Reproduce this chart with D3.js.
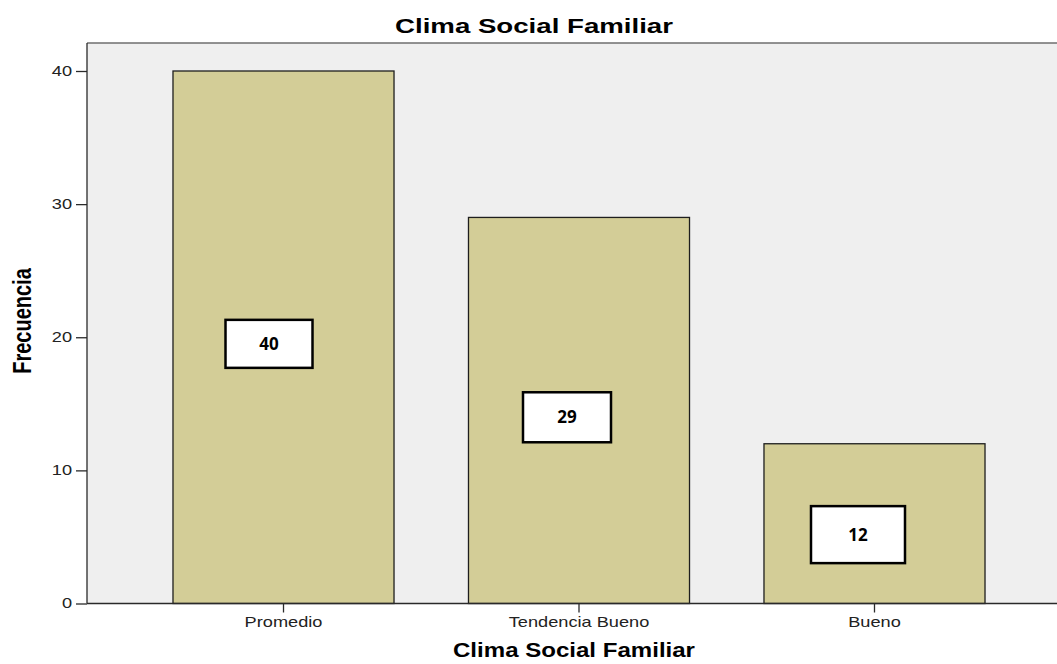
<!DOCTYPE html>
<html>
<head>
<meta charset="utf-8">
<script src="https://cdn.jsdelivr.net/npm/d3@7"></script>
<style>
  body { margin: 0; background: #fff; }
</style>
</head>
<body>
<div id="wrapper"></div>
<script>
const categories = ["Promedio", "Tendencia Bueno", "Bueno"];
const frecuencias = [40, 29, 12];
const yTicks = [0, 10, 20, 30, 40];
const chartTitle = "Clima Social Familiar";
const xTitle = "Clima Social Familiar";
const yTitle = "Frecuencia";

// the source picture is stretched sideways, text too
const stretch = 1.3;
const arial = "Arial, 'Liberation Sans', sans-serif";

function stretchText(sel) {
    sel.each(function () {
        const t = d3.select(this)
        const x = +t.attr("x") || 0
        const y = +t.attr("y") || 0
        t.attr("x", 0).attr("y", 0)
            .attr("transform", `translate(${x},${y}) scale(${stretch},1)`)
    })
}

function drawBars() {
    const dims = {
        width: 1057,
        height: 664,
        left: 87,
        right: 1071,
        top: 43,
        bottom: 603.5
    }

    const svg = d3.select("#wrapper")
        .append("svg")
        .attr("width", dims.width)
        .attr("height", dims.height)

    const xScale = d3.scaleBand()
        .domain(categories)
        .range([dims.left, dims.right])
        .paddingInner(0.252)
        .paddingOuter(0.291)

    const yScale = d3.scaleLinear()
        .domain([0, 40])
        .range([dims.bottom, 71])

    // plot background
    svg.append("rect")
        .attr("x", dims.left)
        .attr("y", dims.top)
        .attr("width", dims.right - dims.left)
        .attr("height", dims.bottom - dims.top)
        .attr("fill", "#efefef")

    svg.append("line")
        .attr("x1", dims.left).attr("x2", dims.right)
        .attr("y1", dims.top).attr("y2", dims.top)
        .attr("stroke", "#6e6e6e")
        .attr("stroke-width", 1.5)

    // bars
    svg.selectAll(".bar")
        .data(frecuencias)
        .enter()
        .append("rect")
        .attr("class", "bar")
        .attr("x", (d, i) => xScale(categories[i]))
        .attr("y", d => yScale(d))
        .attr("width", xScale.bandwidth())
        .attr("height", d => yScale(0) - yScale(d))
        .attr("fill", "#d3cd97")
        .attr("stroke", "#1e1e1e")
        .attr("stroke-width", 1.3)

    // axes
    const yAxis = svg.append("g")
        .attr("transform", `translate(${dims.left},0)`)
        .call(d3.axisLeft(yScale).tickValues(yTicks).tickSize(11).tickPadding(4).tickSizeOuter(0))
    yAxis.select(".domain").remove()
    yAxis.append("line")
        .attr("x1", 0).attr("x2", 0)
        .attr("y1", dims.top).attr("y2", dims.bottom)
        .attr("stroke", "#2a2a2a").attr("stroke-width", 1.3)

    const xAxis = svg.append("g")
        .attr("transform", `translate(0,${dims.bottom})`)
        .call(d3.axisBottom(xScale).tickSize(9).tickPadding(5).tickSizeOuter(0))
    xAxis.select(".domain").remove()
    xAxis.append("line")
        .attr("x1", dims.left).attr("x2", dims.right)
        .attr("y1", 0).attr("y2", 0)
        .attr("stroke", "#2a2a2a").attr("stroke-width", 1.3)

    svg.selectAll(".tick line").attr("stroke", "#2a2a2a").attr("stroke-width", 1.3)
    svg.selectAll(".tick text")
        .attr("fill", "#222")
        .style("font-family", arial)
        .style("font-size", "14px")
    yAxis.selectAll(".tick text").call(stretchText)
    xAxis.selectAll(".tick text").each(function () {
        const t = d3.select(this)
        const y = +t.attr("y")
        t.attr("y", 0).attr("transform", `translate(0,${y}) scale(${stretch},1)`)
    })

    // value boxes (pasted on top of the chart, slightly off-centre)
    const boxLayout = [
        { dx: -14.5, dy: 6.6, w: 87, h: 48 },
        { dx: -12, dy: 6.8, w: 88, h: 50 },
        { dx: -16.5, dy: 11, w: 94, h: 57 }
    ]
    const labels = svg.selectAll(".lbl")
        .data(frecuencias)
        .enter()
        .append("g")
        .attr("class", "lbl")
        .attr("transform", (d, i) => {
            const cx = xScale(categories[i]) + xScale.bandwidth() / 2 + boxLayout[i].dx
            const cy = yScale(d / 2) + boxLayout[i].dy
            return `translate(${cx},${cy})`
        })
    labels.append("rect")
        .attr("x", (d, i) => -boxLayout[i].w / 2)
        .attr("y", (d, i) => -boxLayout[i].h / 2)
        .attr("width", (d, i) => boxLayout[i].w)
        .attr("height", (d, i) => boxLayout[i].h)
        .attr("fill", "#fff")
        .attr("stroke", "#000")
        .attr("stroke-width", 2.5)
    labels.append("text")
        .attr("text-anchor", "middle")
        .attr("dy", "0.36em")
        .style("font-family", "'Open Sans', sans-serif")
        .style("font-weight", "bold")
        .style("font-size", "17px")
        .text(d => d)

    // titles
    svg.append("text")
        .attr("x", 534)
        .attr("y", 33)
        .attr("text-anchor", "middle")
        .attr("textLength", 278)
        .attr("lengthAdjust", "spacingAndGlyphs")
        .style("font-family", arial)
        .style("font-weight", "bold")
        .style("font-size", "20px")
        .text(chartTitle)

    svg.append("text")
        .attr("x", 574)
        .attr("y", 657)
        .attr("text-anchor", "middle")
        .attr("textLength", 242)
        .attr("lengthAdjust", "spacingAndGlyphs")
        .style("font-family", arial)
        .style("font-weight", "bold")
        .style("font-size", "20px")
        .text(xTitle)

    svg.append("text")
        .attr("transform", `translate(22,321) scale(${stretch},1) rotate(-90)`)
        .attr("text-anchor", "middle")
        .attr("dy", "0.36em")
        .style("font-family", arial)
        .style("font-weight", "bold")
        .style("font-size", "20px")
        .text(yTitle)
}

drawBars();
</script>
</body>
</html>
